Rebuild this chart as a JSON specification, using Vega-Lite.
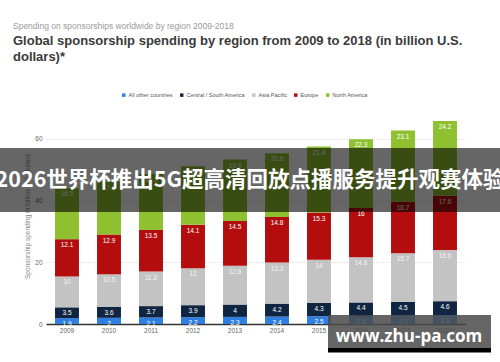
{
  "$schema": "https://vega.github.io/schema/vega-lite/v6.json",
  "width": 420,
  "height": 216,
  "autosize": {"type": "none"},
  "padding": {"left": 46, "top": 108, "right": 34, "bottom": 38},
  "background": "white",
  "config": {
    "font": "Liberation Sans",
    "view": {"stroke": null}
  },
  "title": {
    "text": "Spending on sponsorships worldwide by region 2009-2018",
    "subtitle": ["Global sponsorship spending by region from 2009 to 2018 (in billion U.S.", "dollars)*"],
    "anchor": "start",
    "frame": "group",
    "dx": -33,
    "offset": 28,
    "fontSize": 8.5,
    "fontWeight": "normal",
    "color": "#9a9a9a",
    "subtitleFontSize": 13,
    "subtitleFontWeight": "bold",
    "subtitleColor": "#3a3a3a",
    "subtitleLineHeight": 16,
    "subtitlePadding": 5
  },
  "data": {
    "values": [
      {"year": "2009", "region": "All other countries", "value": 1.9},
      {"year": "2009", "region": "Central / South America", "value": 3.5},
      {"year": "2009", "region": "Asia Pacific", "value": 10},
      {"year": "2009", "region": "Europe", "value": 12.1},
      {"year": "2009", "region": "North America", "value": 16.5},
      {"year": "2010", "region": "All other countries", "value": 2},
      {"year": "2010", "region": "Central / South America", "value": 3.6},
      {"year": "2010", "region": "Asia Pacific", "value": 10.5},
      {"year": "2010", "region": "Europe", "value": 12.9},
      {"year": "2010", "region": "North America", "value": 17.1},
      {"year": "2011", "region": "All other countries", "value": 2.1},
      {"year": "2011", "region": "Central / South America", "value": 3.7},
      {"year": "2011", "region": "Asia Pacific", "value": 11.2},
      {"year": "2011", "region": "Europe", "value": 13.5},
      {"year": "2011", "region": "North America", "value": 18.1},
      {"year": "2012", "region": "All other countries", "value": 2.2},
      {"year": "2012", "region": "Central / South America", "value": 3.9},
      {"year": "2012", "region": "Asia Pacific", "value": 12},
      {"year": "2012", "region": "Europe", "value": 14.1},
      {"year": "2012", "region": "North America", "value": 18.9},
      {"year": "2013", "region": "All other countries", "value": 2.3},
      {"year": "2013", "region": "Central / South America", "value": 4},
      {"year": "2013", "region": "Asia Pacific", "value": 12.6},
      {"year": "2013", "region": "Europe", "value": 14.5},
      {"year": "2013", "region": "North America", "value": 19.9},
      {"year": "2014", "region": "All other countries", "value": 2.4},
      {"year": "2014", "region": "Central / South America", "value": 4.2},
      {"year": "2014", "region": "Asia Pacific", "value": 13.3},
      {"year": "2014", "region": "Europe", "value": 14.8},
      {"year": "2014", "region": "North America", "value": 20.6},
      {"year": "2015", "region": "All other countries", "value": 2.5},
      {"year": "2015", "region": "Central / South America", "value": 4.3},
      {"year": "2015", "region": "Asia Pacific", "value": 14},
      {"year": "2015", "region": "Europe", "value": 15.3},
      {"year": "2015", "region": "North America", "value": 21.4},
      {"year": "2016", "region": "All other countries", "value": 2.6},
      {"year": "2016", "region": "Central / South America", "value": 4.4},
      {"year": "2016", "region": "Asia Pacific", "value": 14.6},
      {"year": "2016", "region": "Europe", "value": 16},
      {"year": "2016", "region": "North America", "value": 22.3},
      {"year": "2017", "region": "All other countries", "value": 2.7},
      {"year": "2017", "region": "Central / South America", "value": 4.5},
      {"year": "2017", "region": "Asia Pacific", "value": 15.7},
      {"year": "2017", "region": "Europe", "value": 16.7},
      {"year": "2017", "region": "North America", "value": 23.1},
      {"year": "2018**", "region": "All other countries", "value": 2.8},
      {"year": "2018**", "region": "Central / South America", "value": 4.6},
      {"year": "2018**", "region": "Asia Pacific", "value": 16.6},
      {"year": "2018**", "region": "Europe", "value": 17.6},
      {"year": "2018**", "region": "North America", "value": 24.2}
    ]
  },
  "layer": [
    {
      "transform": [{"window": [{"op": "row_number", "as": "stackIndex"}], "groupby": ["year"]}],
      "mark": {"type": "bar"},
      "encoding": {
        "x": {
          "field": "year", "type": "nominal", "sort": null,
          "scale": {"paddingInner": 0.43, "paddingOuter": 0.215},
          "axis": {"title": null, "labelAngle": 0, "labelFontSize": 6.5, "labelColor": "#666", "ticks": false, "labelPadding": 3, "domainColor": "#333", "domainWidth": 1.5}
        },
        "y": {
          "field": "value", "type": "quantitative", "stack": "zero",
          "scale": {"domain": [0, 70], "nice": false},
          "axis": {"values": [0, 10, 20, 30, 40, 50, 60, 70], "title": "Sponsorship spending in billion U.S. dollars", "titleFontSize": 6.5, "titleFontWeight": "normal", "titleColor": "#888", "titlePadding": 4, "labelFontSize": 6.5, "labelColor": "#666", "labelPadding": 4, "domain": false, "ticks": false, "gridColor": "#cfcfcf", "gridDash": [1, 2]}
        },
        "order": {"field": "stackIndex", "type": "quantitative", "sort": "ascending"},
        "color": {
          "field": "region", "type": "nominal",
          "scale": {"domain": ["All other countries", "Central / South America", "Asia Pacific", "Europe", "North America"], "range": ["#2f7fe3", "#0f2541", "#c3c3c3", "#b30d0d", "#8ec030"]},
          "legend": {"orient": "none", "legendX": 75, "legendY": -16, "direction": "horizontal", "title": null, "symbolType": "square", "symbolSize": 12, "labelFontSize": 5.5, "labelColor": "#555", "columnPadding": 6, "labelOffset": 2}
        }
      }
    },
    {
      "transform": [{"window": [{"op": "row_number", "as": "stackIndex"}], "groupby": ["year"]}],
      "mark": {"type": "text", "dy": 6, "fontSize": 6.5, "baseline": "middle"},
      "encoding": {
        "x": {"field": "year", "type": "nominal", "sort": null},
        "y": {"field": "value", "type": "quantitative", "stack": "zero"},
        "order": {"field": "stackIndex", "type": "quantitative", "sort": "ascending"},
        "color": {
          "field": "region", "type": "nominal",
          "scale": {"domain": ["All other countries", "Central / South America", "Asia Pacific", "Europe", "North America"], "range": ["#ffffff", "#ffffff", "#f4f4f4", "#ffffff", "#ffffff"]},
          "legend": null
        },
        "text": {"field": "value", "type": "quantitative"}
      }
    },
    {
      "data": {"values": [{"t": "2026世界杯推出5G超高清回放点播服务提升观赛体验"}]},
      "mark": {"type": "rect", "color": "#000000", "opacity": 0.6},
      "encoding": {"x": {"value": -46}, "x2": {"value": 454}, "y": {"datum": 57}, "y2": {"datum": 36.3}}
    },
    {
      "data": {"values": [{"t": "2026世界杯推出5G超高清回放点播服务提升观赛体验"}]},
      "mark": {"type": "text", "font": "Noto Sans CJK SC", "fontWeight": "bold", "fontSize": 21.5, "color": "#ffffff", "align": "center", "baseline": "middle"},
      "encoding": {"x": {"value": 204}, "y": {"datum": 46.3}, "text": {"field": "t"}}
    },
    {
      "data": {"values": [{"t": "www.zhu-pa.com"}]},
      "mark": {"type": "rect", "color": "#4a4a4a", "opacity": 0.85},
      "encoding": {"x": {"value": 282}, "x2": {"value": 445}, "y": {"datum": 2.9}, "y2": {"datum": -7.8}}
    },
    {
      "data": {"values": [{"t": "www.zhu-pa.com"}]},
      "mark": {"type": "rect", "color": "#000000"},
      "encoding": {"x": {"value": 282}, "x2": {"value": 445}, "y": {"datum": -7.8}, "y2": {"datum": -9.2}}
    },
    {
      "data": {"values": [{"t": "www.zhu-pa.com"}]},
      "mark": {"type": "text", "font": "Open Sans", "fontWeight": "bold", "fontSize": 17, "color": "#ffffff", "align": "center", "baseline": "middle"},
      "encoding": {"x": {"value": 363}, "y": {"datum": -4.3}, "text": {"field": "t"}}
    }
  ],
  "resolve": {"scale": {"color": "independent"}}
}
